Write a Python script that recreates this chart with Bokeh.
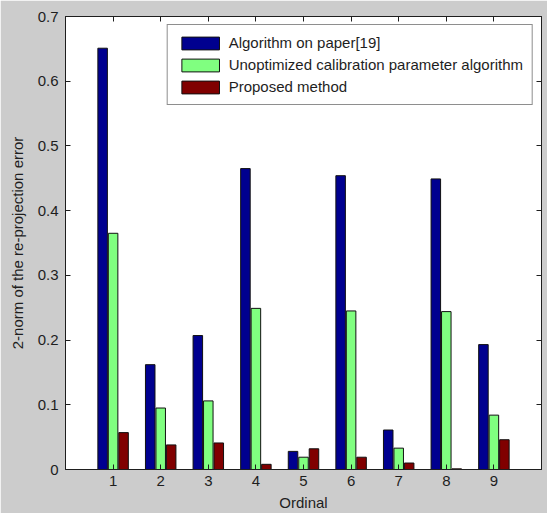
from bokeh.plotting import figure
from bokeh.models import (ColumnDataSource, LinearAxis, FixedTicker, Range1d, Legend, LegendItem,
                          CustomJSTickFormatter, CustomLabelingPolicy)
from bokeh.transform import dodge
from bokeh.embed import file_html
from bokeh.resources import INLINE

ordinals = [1, 2, 3, 4, 5, 6, 7, 8, 9]
paper19 = [0.651, 0.162, 0.207, 0.465, 0.028, 0.454, 0.061, 0.449, 0.193]
unoptimized = [0.365, 0.095, 0.106, 0.249, 0.019, 0.245, 0.033, 0.244, 0.084]
proposed = [0.057, 0.038, 0.041, 0.008, 0.032, 0.019, 0.010, 0.001, 0.046]
series_names = ["Algorithm on paper[19]", "Unoptimized calibration parameter algorithm", "Proposed method"]
y_ticks = [0, 0.1, 0.2, 0.3, 0.4, 0.5, 0.6, 0.7]
y_tick_labels = ["0", "0.1", "0.2", "0.3", "0.4", "0.5", "0.6", "0.7"]

src = ColumnDataSource(dict(x=ordinals, a=paper19, b=unoptimized, c=proposed))

FONT = "Liberation Sans"
FS = "15px"
TXT = "#1e1e1e"

p = figure(width=547, height=513, output_backend="svg", toolbar_location=None,
           x_range=Range1d(0, 10), y_range=Range1d(0, 0.7),
           min_border_left=65, min_border_top=16, min_border_right=6, min_border_bottom=42,
           background_fill_color="white", border_fill_color="#cccccc",
           outline_line_color="#1e1e1e")
p.xgrid.visible = False
p.ygrid.visible = False

colors = ["#00008f", "#80ff80", "#800000"]
renderers = []
for col, off, c in zip(["a", "b", "c"], [-0.22, 0.0, 0.22], colors):
    r = p.vbar(x=dodge("x", off), top=col, width=0.2, source=src,
               fill_color=c, line_color="#111111", line_width=1)
    renderers.append(r)

def style_axis(ax, labels=True):
    ax.axis_line_color = "#1e1e1e"
    ax.major_tick_line_color = "#1e1e1e"
    ax.major_tick_in = 5
    ax.major_tick_out = 0
    ax.minor_tick_in = 0
    ax.minor_tick_out = 0
    ax.major_label_text_font = FONT
    ax.major_label_text_font_size = FS if labels else "1px"
    ax.major_label_text_color = TXT
    ax.axis_label_text_font = FONT
    ax.axis_label_text_font_size = FS
    ax.axis_label_text_font_style = "normal"
    ax.axis_label_text_color = TXT

p.xaxis.ticker = FixedTicker(ticks=ordinals)
p.yaxis.ticker = FixedTicker(ticks=y_ticks)
p.yaxis.major_label_overrides = {t: l for t, l in zip(y_ticks, y_tick_labels)}
style_axis(p.xaxis[0])
style_axis(p.yaxis[0])
p.xaxis.axis_label = "Ordinal"
p.yaxis.axis_label = "2-norm of the re-projection error"
p.xaxis.major_label_standoff = 6
p.yaxis.major_label_standoff = 7
p.xaxis.axis_label_standoff = 5
p.yaxis.axis_label_standoff = 9

hide_code = "for (const i of indices) { indices.unset(i) } return indices"
top_ax = LinearAxis(ticker=FixedTicker(ticks=ordinals),
                    formatter=CustomJSTickFormatter(code="return ''"),
                    major_label_policy=CustomLabelingPolicy(code=hide_code))
style_axis(top_ax, labels=False)
top_ax.major_label_standoff = 0
right_ax = LinearAxis(ticker=FixedTicker(ticks=y_ticks),
                      formatter=CustomJSTickFormatter(code="return ''"),
                      major_label_policy=CustomLabelingPolicy(code=hide_code))
style_axis(right_ax, labels=False)
right_ax.major_label_standoff = 0
p.add_layout(top_ax, "above")
p.add_layout(right_ax, "right")

legend = Legend(items=[LegendItem(label=n, renderers=[r]) for n, r in zip(series_names, renderers)],
                location="top_right")
legend.margin = 8
legend.padding = 9
legend.spacing = 5
legend.glyph_width = 47
legend.glyph_height = 16
legend.label_height = 16
legend.label_standoff = 5
legend.label_text_font = FONT
legend.label_text_font_size = FS
legend.label_text_color = TXT
legend.border_line_color = "#1e1e1e"
legend.border_line_width = 1
legend.background_fill_color = "white"
legend.background_fill_alpha = 1.0
p.add_layout(legend, "center")

open("out.html", "w").write(file_html(p, INLINE))
